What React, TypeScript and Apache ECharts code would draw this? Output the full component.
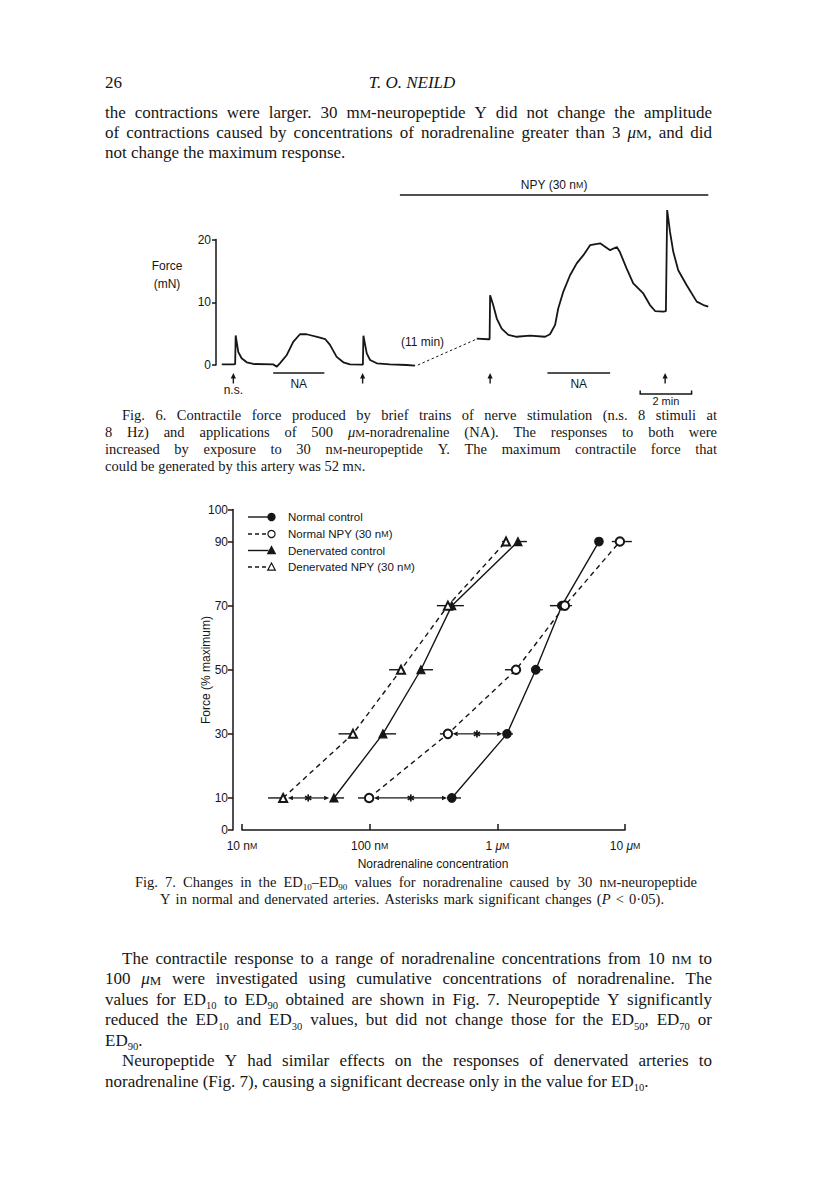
import React, { useEffect, useRef } from "react";
import * as echarts from "echarts";

// ================= Fig. 6 data (chart time in min, force in mN) =================
const fig6YTicks = [0, 10, 20];
const traceBefore: number[][] = [
  [0.07, 0.1], [0.52, 0.1], [0.59, 0.15], [0.61, 4.7], [0.71, 2.1], [0.84, 1.07], [1.04, 0.43],
  [1.3, 0.16], [2.07, 0.1], [2.21, -0.27], [2.33, 0.27], [2.6, 1.6], [2.85, 3.7], [3.11, 4.9],
  [3.37, 4.9], [3.89, 4.35], [4.09, 4.14], [4.28, 3.2], [4.54, 1.3], [4.8, 0.43], [5.06, 0.1],
  [5.51, 0.05], [5.56, 0.05], [5.58, 4.67], [5.71, 1.86], [5.84, 0.8], [6.1, 0.27], [6.61, 0.1],
  [7.26, 0], [7.59, -0.1],
];
const traceBreak: number[][] = [[7.7, 0], [9.99, 4.14]];
const traceAfter: number[][] = [
  [9.99, 4.2], [10.44, 4.1], [10.49, 4.1], [10.51, 11.1], [10.63, 9.55], [10.77, 7.4], [10.96, 5.8],
  [11.22, 4.8], [11.54, 4.5], [12.06, 4.67], [12.65, 4.5], [12.84, 4.9], [13.04, 6.4], [13.16, 9.0],
  [13.36, 11.7], [13.62, 14.3], [13.88, 16.2], [14.14, 17.5], [14.4, 19.1], [14.79, 19.4],
  [15.18, 18.3], [15.44, 18.8], [15.56, 18.0], [15.82, 15.4], [16.08, 13.0], [16.47, 11.4],
  [16.73, 9.55], [16.93, 8.6], [17.25, 8.5], [17.35, 8.6], [17.4, 24.7], [17.51, 21.2],
  [17.64, 18.0], [17.83, 15.1], [18.16, 12.7], [18.55, 10.1], [18.81, 9.55], [19.0, 9.3],
];
const stimTimes = [0.52, 5.55, 10.51, 17.32];
const stimLabels = ["n.s.", "", "", ""];
const naPeriods = [[2.07, 4.06], [12.74, 15.18]];
const npyPeriod = [7.0, 19.0];
const scaleBar = [16.35, 18.35];

// ================= Fig. 7 data (concentration in nM, force in % max) =================
const edLevels = [10, 30, 50, 70, 90];
const normalControl = [440, 1190, 2000, 3200, 6250];
const normalNPY = [99, 410, 1400, 3380, 9120];
const denervatedControl = [52.5, 127, 252, 440, 1450];
const denervatedNPY = [21, 74, 176, 410, 1170];
const normalControlErr = [[440, 519], [1190, 1325], [2000, 2275], [2580, 3200], [6250, 6250]];
const normalNPYErr = [[81, 99], [355, 410], [1147, 1400], [3380, 3840], [7890, 11320]];
const denervatedControlErr = [[52.5, 63], [127, 161], [252, 313], [440, 547], [1450, 1706]];
const denervatedNPYErr = [[16, 21], [57, 74], [142, 176], [336, 410], [1087, 1170]];
// [NPY value, asterisk position, control value, level]
const sigPairs = [[21, 33, 52.5, 10], [99, 210, 440, 10], [410, 692, 1190, 30]];
const xTickValues = [10, 100, 1000, 10000];
const xTickLabels = ["10 n{c|M}", "100 n{c|M}", "1 {i|μ}{c|M}", "10 {i|μ}{c|M}"];
const yTickValues = [0, 10, 30, 50, 70, 90, 100];
const legendItems = [
  { name: "Normal control", dashed: false, symbol: "circle", open: false },
  { name: "Normal NPY (30 n{c|M})", dashed: true, symbol: "circle", open: true },
  { name: "Denervated control", dashed: false, symbol: "triangle", open: false },
  { name: "Denervated NPY (30 n{c|M})", dashed: true, symbol: "triangle", open: true },
];

// ================= Page text =================
const headerNumber = "26";
const headerTitle = "T. O. NEILD";
const topLines = [
  { t: "the contractions were larger. 30 m{c|M}-neuropeptide Y did not change the amplitude", j: true, ind: 0 },
  { t: "of contractions caused by concentrations of noradrenaline greater than 3 {i|μ}{c|M}, and did", j: true, ind: 0 },
  { t: "not change the maximum response.", j: false, ind: 0 },
];
const fig6Caption = [
  { t: "Fig. 6. Contractile force produced by brief trains of nerve stimulation (n.s. 8 stimuli at", j: true, ind: 17 },
  { t: "8 Hz) and applications of 500 {i|μ}{c|M}-noradrenaline (NA). The responses to both were", j: true, ind: 0 },
  { t: "increased by exposure to 30 n{c|M}-neuropeptide Y. The maximum contractile force that", j: true, ind: 0 },
  { t: "could be generated by this artery was 52 m{c|N}.", j: false, ind: 0 },
];
const fig7Caption = [
  { t: "Fig. 7. Changes in the ED{s|10}–ED{s|90} values for noradrenaline caused by 30 n{c|M}-neuropeptide", x: 135, w: 562 },
  { t: "Y in normal and denervated arteries. Asterisks mark significant changes ({i|P} < 0·05).", x: 160, w: 504 },
];
const bottomLines = [
  { t: "The contractile response to a range of noradrenaline concentrations from 10 n{c|M} to", j: true, ind: 17 },
  { t: "100 {i|μ}{c|M} were investigated using cumulative concentrations of noradrenaline. The", j: true, ind: 0 },
  { t: "values for ED{s|10} to ED{s|90} obtained are shown in Fig. 7. Neuropeptide Y significantly", j: true, ind: 0 },
  { t: "reduced the ED{s|10} and ED{s|30} values, but did not change those for the ED{s|50}, ED{s|70} or", j: true, ind: 0 },
  { t: "ED{s|90}.", j: false, ind: 0 },
  { t: "Neuropeptide Y had similar effects on the responses of denervated arteries to", j: true, ind: 17 },
  { t: "noradrenaline (Fig. 7), causing a significant decrease only in the value for ED{s|10}.", j: false, ind: 0 },
];

const INK = "#161616";
const SERIF = '"Liberation Serif", "Times New Roman", serif';
const SANS = '"Liberation Sans", Arial, sans-serif';
const K_SERIF = 0.3375;

type Seg = { style: string; text: string };
function parseWord(w: string): Seg[] {
  const segs: Seg[] = [];
  const re = /\{(\w)\|([^}]*)\}/g;
  let last = 0;
  let m: RegExpExecArray | null;
  while ((m = re.exec(w))) {
    if (m.index > last) segs.push({ style: "n", text: w.slice(last, m.index) });
    segs.push({ style: m[1], text: m[2] });
    last = m.index + m[0].length;
  }
  if (last < w.length) segs.push({ style: "n", text: w.slice(last) });
  return segs;
}
function segFont(style: string, F: number, italic: boolean) {
  const it = italic ? "italic " : "";
  if (style === "c") return { font: `${it}${(F * 0.76).toFixed(2)}px ${SERIF}`, size: F * 0.76, dy: 0 };
  if (style === "s") return { font: `${(F * 0.62).toFixed(2)}px ${SERIF}`, size: F * 0.62, dy: F * 0.24 };
  if (style === "i") return { font: `italic ${F}px ${SERIF}`, size: F, dy: 0 };
  return { font: `${it}${F}px ${SERIF}`, size: F, dy: 0 };
}

function buildText(): any[] {
  const G: any[] = [];
  const ctx = document.createElement("canvas").getContext("2d") as CanvasRenderingContext2D;
  const line = (str: string, o: { x: number; base: number; F: number; width?: number; justify?: boolean; align?: string; italic?: boolean }) => {
    const words = str.split(" ").filter((w) => w.length);
    const wordSegs = words.map((w) =>
      parseWord(w).map((s) => {
        const f = segFont(s.style, o.F, !!o.italic);
        ctx.font = f.font;
        return { ...s, ...f, w: ctx.measureText(s.text).width };
      })
    );
    const ww = wordSegs.map((ss) => ss.reduce((a, s) => a + s.w, 0));
    const total = ww.reduce((a, b) => a + b, 0);
    ctx.font = segFont("n", o.F, !!o.italic).font;
    let gap = ctx.measureText(" ").width;
    if (o.justify && words.length > 1 && o.width) gap = (o.width - total) / (words.length - 1);
    let x = o.x;
    if (o.align === "center") x = o.x - (total + gap * (words.length - 1)) / 2;
    wordSegs.forEach((ss, i) => {
      let sx = x;
      ss.forEach((s) => {
        G.push({
          type: "text",
          silent: true,
          x: sx,
          y: o.base + s.dy - K_SERIF * s.size,
          style: { text: s.text, font: s.font, fill: INK, align: "left", verticalAlign: "middle", textAlign: "left", textVerticalAlign: "middle" },
        });
        sx += s.w;
      });
      x += ww[i] + gap;
    });
  };
  const L = 105;
  const R = 712;
  line(headerNumber, { x: L, base: 88.5, F: 17 });
  line(headerTitle, { x: 412, base: 88.5, F: 17, italic: true, align: "center" });
  topLines.forEach((l, i) => line(l.t, { x: L + l.ind, base: 118 + i * 20, F: 17, width: R - L - l.ind, justify: l.j }));
  fig6Caption.forEach((l, i) => line(l.t, { x: L + l.ind, base: 419.5 + i * 17, F: 14.5, width: 717 - L - l.ind, justify: l.j }));
  fig7Caption.forEach((l, i) => line(l.t, { x: l.x, base: 886.5 + i * 17, F: 14.5, width: l.w, justify: true }));
  bottomLines.forEach((l, i) => line(l.t, { x: L + l.ind, base: 964 + i * 20.5, F: 17, width: R - L - l.ind, justify: l.j }));
  return G;
}

function buildOption() {
  const G = buildText();
  const sansText = (text: string, x: number, y: number, extra: any = {}) => ({
    type: "text",
    silent: true,
    x,
    y,
    ...extra,
    style: {
      text,
      font: `12px ${SANS}`,
      fill: INK,
      align: extra.align || "center",
      textAlign: extra.align || "center",
      verticalAlign: "middle",
      textVerticalAlign: "middle",
      rich: { c: { fontSize: 8.8, fontFamily: SANS }, i: { fontStyle: "italic", fontFamily: SANS } },
      ...(extra.style || {}),
    },
  });
  // Fig. 6 labels
  G.push(sansText("Force", 167, 265.5));
  G.push(sansText("(mN)", 167, 283.5));
  G.push(sansText("(11 min)", 401, 342, { align: "left" }));
  // Fig. 7 labels
  G.push(sansText("Force (% maximum)", 206, 670, { rotation: Math.PI / 2 }));
  G.push(sansText("Noradrenaline concentration", 433, 864));
  const legendY = [517, 534, 550.5, 567];
  legendItems.forEach((it, i) => {
    const y = legendY[i];
    const mx = 271.5;
    G.push({
      type: "line",
      silent: true,
      shape: { x1: 248, y1: y, x2: mx - 3, y2: y },
      style: { stroke: INK, lineWidth: 1.4, lineDash: it.dashed ? [4, 3] : null },
    });
    const mStyle = { fill: it.open ? "#fff" : INK, stroke: INK, lineWidth: 1.2 };
    if (it.symbol === "circle") {
      G.push({ type: "circle", silent: true, shape: { cx: mx, cy: y, r: 3.6 }, style: mStyle });
    } else {
      G.push({ type: "polygon", silent: true, shape: { points: [[mx, y - 4], [mx + 3.8, y + 3.2], [mx - 3.8, y + 3.2]] }, style: mStyle });
    }
    G.push(sansText(it.name, 288, y, { align: "left", style: { font: `11.5px ${SANS}` } }));
  });

  const lineSeries = (vals: number[], dashed: boolean, symbol: string) => ({
    type: "line",
    xAxisIndex: 1,
    yAxisIndex: 1,
    data: edLevels.map((y, i) => [vals[i], y]),
    symbol,
    symbolSize: symbol.toLowerCase().includes("triangle") ? 8 : 8.5,
    showSymbol: true,
    itemStyle: { color: INK, borderColor: INK, borderWidth: 1.2 },
    lineStyle: { color: INK, width: 1.4, type: dashed ? [5, 4] : "solid" },
    z: 3,
    silent: true,
  });
  const errSeries = (errs: number[][]) => ({
    type: "custom",
    xAxisIndex: 1,
    yAxisIndex: 1,
    silent: true,
    z: 1,
    data: errs.map((e, i) => [e[0], e[1], edLevels[i]]),
    encode: { x: [0, 1], y: 2 },
    renderItem: (params: any, api: any) => {
      const y = api.value(2);
      const p0 = api.coord([api.value(0), y]);
      const p1 = api.coord([api.value(1), y]);
      return { type: "line", shape: { x1: p0[0], y1: p0[1], x2: p1[0], y2: p1[1] }, style: { stroke: INK, lineWidth: 1.4 } };
    },
  });

  const fig6Line = (data: number[][], dashed: boolean) => ({
    type: "line",
    xAxisIndex: 0,
    yAxisIndex: 0,
    data,
    showSymbol: false,
    symbol: "none",
    clip: false,
    silent: true,
    lineStyle: { color: INK, width: dashed ? 1 : 1.8, type: dashed ? [2.5, 2.5] : "solid" },
  });

  return {
    animation: false,
    backgroundColor: "#ffffff",
    textStyle: { fontFamily: SANS, color: INK },
    grid: [
      { left: 220, top: 239.5, width: 488.3, height: 125.5 },
      { left: 242, top: 509.5, width: 383, height: 320.5 },
    ],
    xAxis: [
      { gridIndex: 0, type: "value", min: 0, max: 19, show: false },
      {
        gridIndex: 1,
        type: "log",
        logBase: 10,
        min: 10,
        max: 10000,
        axisLine: { show: true, onZero: false, lineStyle: { color: INK, width: 1.5 } },
        axisTick: { show: true, inside: true, length: 6, lineStyle: { color: INK, width: 1.5 } },
        minorTick: { show: false },
        splitLine: { show: false },
        axisLabel: {
          show: true,
          margin: 10,
          color: INK,
          fontSize: 12,
          fontFamily: SANS,
          showMinLabel: true,
          showMaxLabel: true,
          formatter: (v: number) => {
            const i = xTickValues.findIndex((t) => Math.abs(Math.log10(t) - Math.log10(v)) < 1e-6);
            return i >= 0 ? xTickLabels[i] : "";
          },
          rich: {
            c: { fontSize: 8.8, fontFamily: SANS, color: INK },
            i: { fontStyle: "italic", fontSize: 12, fontFamily: SANS, color: INK },
          },
        },
      },
    ],
    yAxis: [
      {
        gridIndex: 0,
        type: "value",
        min: 0,
        max: 20,
        interval: 10,
        offset: 4,
        axisLine: { show: true, onZero: false, lineStyle: { color: INK, width: 1.5 } },
        axisTick: { show: true, length: 4, lineStyle: { color: INK, width: 1.5 } },
        splitLine: { show: false },
        axisLabel: {
          margin: 5,
          color: INK,
          fontSize: 12,
          fontFamily: SANS,
          formatter: (v: number) => (fig6YTicks.includes(v) ? String(v) : ""),
        },
      },
      {
        gridIndex: 1,
        type: "value",
        min: 0,
        max: 100,
        offset: 9,
        axisLine: { show: true, onZero: false, lineStyle: { color: INK, width: 1.5 } },
        axisTick: { show: true, length: 5, customValues: yTickValues, lineStyle: { color: INK, width: 1.5 } },
        splitLine: { show: false },
        axisLabel: { margin: 5, color: INK, fontSize: 12, fontFamily: SANS, customValues: yTickValues },
      },
    ],
    series: [
      fig6Line(traceBefore, false),
      fig6Line(traceBreak, true),
      fig6Line(traceAfter, false),
      {
        type: "custom",
        xAxisIndex: 0,
        yAxisIndex: 0,
        silent: true,
        clip: false,
        data: stimTimes.map((t) => [t, 0]),
        encode: { x: 0, y: 1 },
        renderItem: (params: any, api: any) => {
          const p = api.coord([api.value(0), 0]);
          const x = p[0];
          const y = p[1];
          const ch: any[] = [
            { type: "line", shape: { x1: x, y1: y + 12, x2: x, y2: y + 18.5 }, style: { stroke: INK, lineWidth: 1.4 } },
            { type: "polygon", shape: { points: [[x, y + 8], [x - 2.6, y + 13.5], [x + 2.6, y + 13.5]] }, style: { fill: INK } },
          ];
          const lab = stimLabels[params.dataIndex];
          if (lab)
            ch.push({
              type: "text",
              x,
              y: y + 25,
              style: { text: lab, font: `12px ${SANS}`, fill: INK, align: "center", textAlign: "center", verticalAlign: "middle", textVerticalAlign: "middle" },
            });
          return { type: "group", children: ch };
        },
      },
      {
        type: "custom",
        xAxisIndex: 0,
        yAxisIndex: 0,
        silent: true,
        clip: false,
        data: naPeriods.map((p) => [p[0], p[1], 0]),
        encode: { x: [0, 1], y: 2 },
        renderItem: (params: any, api: any) => {
          const p0 = api.coord([api.value(0), 0]);
          const p1 = api.coord([api.value(1), 0]);
          const y = p0[1];
          return {
            type: "group",
            children: [
              { type: "line", shape: { x1: p0[0], y1: y + 8, x2: p1[0], y2: y + 8 }, style: { stroke: INK, lineWidth: 1.5 } },
              {
                type: "text",
                x: (p0[0] + p1[0]) / 2,
                y: y + 18.5,
                style: { text: "NA", font: `12px ${SANS}`, fill: INK, align: "center", textAlign: "center", verticalAlign: "middle", textVerticalAlign: "middle" },
              },
            ],
          };
        },
      },
      {
        type: "custom",
        xAxisIndex: 0,
        yAxisIndex: 0,
        silent: true,
        clip: false,
        data: [[npyPeriod[0], npyPeriod[1], 20]],
        encode: { x: [0, 1], y: 2 },
        renderItem: (params: any, api: any) => {
          const p0 = api.coord([api.value(0), 20]);
          const p1 = api.coord([api.value(1), 20]);
          const y = p0[1];
          return {
            type: "group",
            children: [
              { type: "line", shape: { x1: p0[0], y1: y - 44.5, x2: p1[0], y2: y - 44.5 }, style: { stroke: INK, lineWidth: 1.5 } },
              {
                type: "text",
                x: (p0[0] + p1[0]) / 2,
                y: y - 55,
                style: {
                  text: "NPY (30 n{c|M})",
                  font: `12px ${SANS}`,
                  fill: INK,
                  align: "center",
                  textAlign: "center",
                  verticalAlign: "middle",
                  textVerticalAlign: "middle",
                  rich: { c: { fontSize: 8.8, fontFamily: SANS, fill: INK, color: INK } },
                },
              },
            ],
          };
        },
      },
      {
        type: "custom",
        xAxisIndex: 0,
        yAxisIndex: 0,
        silent: true,
        clip: false,
        data: [[scaleBar[0], scaleBar[1], 0]],
        encode: { x: [0, 1], y: 2 },
        renderItem: (params: any, api: any) => {
          const p0 = api.coord([api.value(0), 0]);
          const p1 = api.coord([api.value(1), 0]);
          const y = p0[1] + 29;
          return {
            type: "group",
            children: [
              {
                type: "polyline",
                shape: { points: [[p0[0], y - 3.5], [p0[0], y], [p1[0], y], [p1[0], y - 3.5]] },
                style: { stroke: INK, lineWidth: 1.5, fill: null },
              },
              {
                type: "text",
                x: (p0[0] + p1[0]) / 2,
                y: y + 7,
                style: { text: "2 min", font: `11px ${SANS}`, fill: INK, align: "center", textAlign: "center", verticalAlign: "middle", textVerticalAlign: "middle" },
              },
            ],
          };
        },
      },
      // Fig. 7
      errSeries(normalControlErr),
      errSeries(normalNPYErr),
      errSeries(denervatedControlErr),
      errSeries(denervatedNPYErr),
      lineSeries(normalControl, false, "circle"),
      lineSeries(normalNPY, true, "emptyCircle"),
      lineSeries(denervatedControl, false, "triangle"),
      lineSeries(denervatedNPY, true, "emptyTriangle"),
      {
        type: "custom",
        xAxisIndex: 1,
        yAxisIndex: 1,
        silent: true,
        z: 2,
        data: sigPairs,
        encode: { x: [0, 1, 2], y: 3 },
        renderItem: (params: any, api: any) => {
          const lv = api.value(3);
          const pO = api.coord([api.value(0), lv]);
          const pS = api.coord([api.value(1), lv]);
          const pF = api.coord([api.value(2), lv]);
          const y = pS[1];
          const r = 4.8;
          const hl = 5;
          const hw = 2.3;
          const lt = pO[0] + r;
          const rt = pF[0] - r;
          const sx = pS[0];
          const s = 3.6;
          const st = { stroke: INK, lineWidth: 1.2 };
          const ang = [Math.PI / 2, Math.PI / 6, -Math.PI / 6];
          const spokes = ang.map((a) => ({
            type: "line",
            shape: { x1: sx - s * Math.cos(a), y1: y - s * Math.sin(a), x2: sx + s * Math.cos(a), y2: y + s * Math.sin(a) },
            style: { stroke: INK, lineWidth: 1.7 },
          }));
          return {
            type: "group",
            children: [
              { type: "line", shape: { x1: sx, y1: y, x2: lt + hl, y2: y }, style: st },
              { type: "line", shape: { x1: sx, y1: y, x2: rt - hl, y2: y }, style: st },
              { type: "polygon", shape: { points: [[lt, y], [lt + hl, y - hw], [lt + hl, y + hw]] }, style: { fill: INK } },
              { type: "polygon", shape: { points: [[rt, y], [rt - hl, y - hw], [rt - hl, y + hw]] }, style: { fill: INK } },
              ...spokes,
            ],
          };
        },
      },
    ],
    graphic: { elements: G },
  };
}

export default function App() {
  const ref = useRef<HTMLDivElement>(null);
  useEffect(() => {
    const chart = echarts.init(ref.current as HTMLDivElement, null, { renderer: "svg", width: 816, height: 1181 });
    chart.setOption(buildOption() as any);
    return () => chart.dispose();
  }, []);
  return (
    <div
      ref={ref}
      style={{ position: "absolute", left: 0, top: 0, width: 816, height: 1181, background: "#ffffff" }}
    />
  );
}
